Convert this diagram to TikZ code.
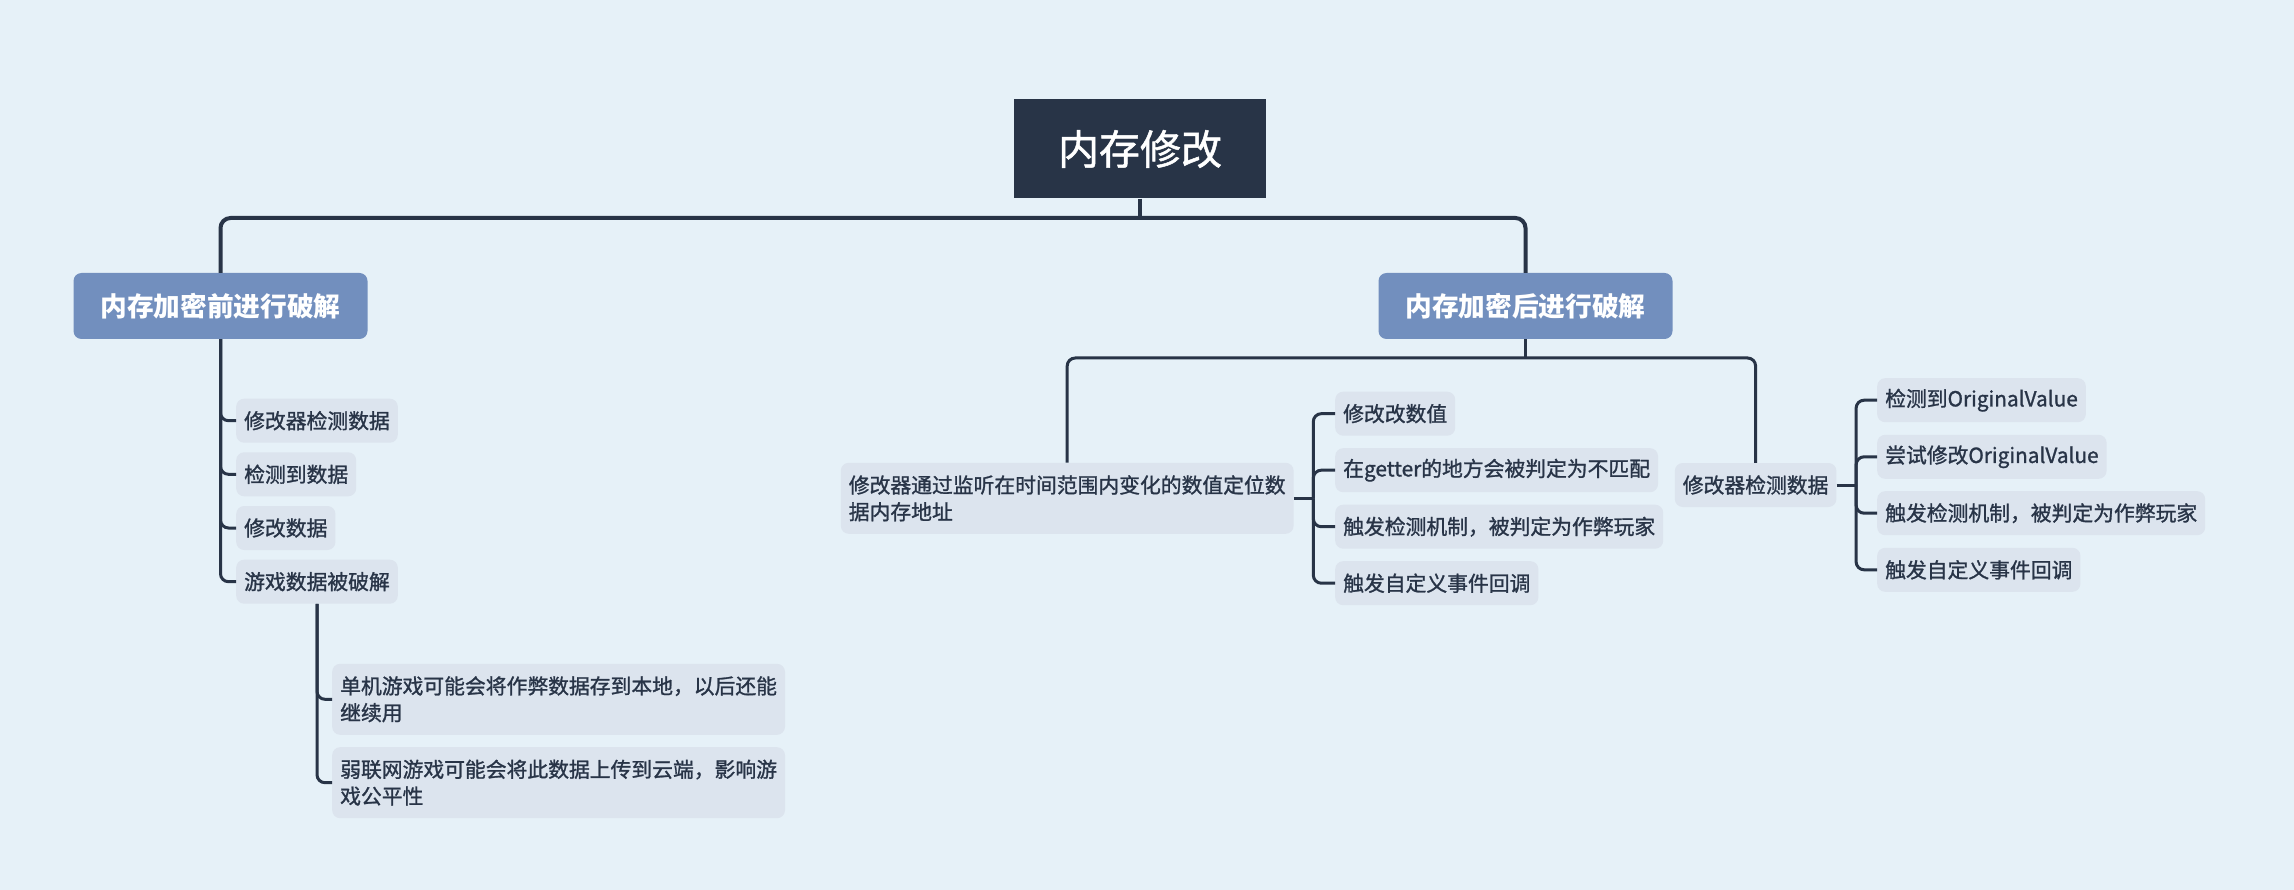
\documentclass[tikz,border=0pt]{standalone}
\usepackage{fontspec}
\newfontfamily\cjk[FakeBold=1.2]{Noto Sans CJK SC}
\newfontfamily\cjkb{Noto Sans CJK SC}
\definecolor{bg}{RGB}{230,241,248}
\definecolor{leaf}{RGB}{220,228,238}
\definecolor{branch}{RGB}{114,143,190}
\definecolor{rootc}{RGB}{40,52,71}
\definecolor{ink}{RGB}{40,52,71}
\begin{document}
\begin{tikzpicture}[x=1pt,y=-1pt,
 rootbox/.style={fill=rootc, text=white, font=\cjk\fontsize{41}{48}\selectfont, minimum width=252pt, minimum height=99pt, inner sep=0pt},
 branchbox/.style={fill=branch, text=white, rounded corners=8pt, font=\cjkb\bfseries\fontsize{26.7}{32}\selectfont, minimum width=294pt, minimum height=66pt, inner sep=0pt},
 leafbox/.style={fill=leaf, text=ink, rounded corners=8pt, font=\cjk\fontsize{20.8}{26.7}\selectfont, inner xsep=8pt, inner ysep=0pt, minimum height=44pt, anchor=west, align=left},
 twoline/.style={minimum height=71pt},
 mainline/.style={draw=ink, line width=4pt, rounded corners=10pt},
 subline/.style={draw=ink, line width=3pt, rounded corners=8pt},
]
\fill[bg] (0,0) rectangle (2294,890);
\useasboundingbox (0,0) rectangle (2294,890);

\node[rootbox] (root) at (1140,149) {内存修改};
\node[branchbox] (b1) at (220.5,306) {内存加密前进行破解};
\node[branchbox] (b2) at (1525.5,306) {内存加密后进行破解};

\node[leafbox] (l1) at (236,420.7) {修改器检测数据};
\node[leafbox] (l2) at (236,474.3) {检测到数据};
\node[leafbox] (l3) at (236,528) {修改数据};
\node[leafbox] (l4) at (236,581.7) {游戏数据被破解};
\node[leafbox,twoline] (g1) at (332,699.3) {单机游戏可能会将作弊数据存到本地，以后还能\\继续用};
\node[leafbox,twoline] (g2) at (332,782.7) {弱联网游戏可能会将此数据上传到云端，影响游\\戏公平性};

\node[leafbox,twoline] (r1) at (840.6,498.3) {修改器通过监听在时间范围内变化的数值定位数\\据内存地址};
\node[leafbox] (r2) at (1674.6,485) {修改器检测数据};

\node[leafbox] (p1) at (1335,413.7) {修改改数值};
\node[leafbox] (p2) at (1335,470.2) {在getter的地方会被判定为不匹配};
\node[leafbox] (p3) at (1335,526.7) {触发检测机制，被判定为作弊玩家};
\node[leafbox] (p4) at (1335,583.2) {触发自定义事件回调};

\node[leafbox] (q1) at (1877,400.2) {检测到OriginalValue};
\node[leafbox] (q2) at (1877,456.8) {尝试修改OriginalValue};
\node[leafbox] (q3) at (1877,513.2) {触发检测机制，被判定为作弊玩家};
\node[leafbox] (q4) at (1877,569.8) {触发自定义事件回调};

\coordinate (h) at (1140,218);
\draw[mainline] (b1.north) |- (h) -| (b2.north);
\draw[mainline] (root.south) -- (h);

\coordinate (h2) at (1525.5,358);
\draw[subline] (r1.north) |- (h2) -| (r2.north);
\draw[subline] (b2.south) -- (h2);

\foreach \n in {l1,l2,l3,l4} \draw[subline] (b1.south) |- (\n.west);
\foreach \n in {g1,g2} \draw[subline] (l4.south) |- (\n.west);

\coordinate (j1) at ([xshift=19.5pt]r1.east);
\draw[subline] (r1.east) -- (j1);
\foreach \n in {p1,p2,p3,p4} \draw[subline] (j1) |- (\n.west);

\coordinate (j2) at ([xshift=19.5pt]r2.east);
\draw[subline] (r2.east) -- (j2);
\foreach \n in {q1,q2,q3,q4} \draw[subline] (j2) |- (\n.west);
\end{tikzpicture}
\end{document}
